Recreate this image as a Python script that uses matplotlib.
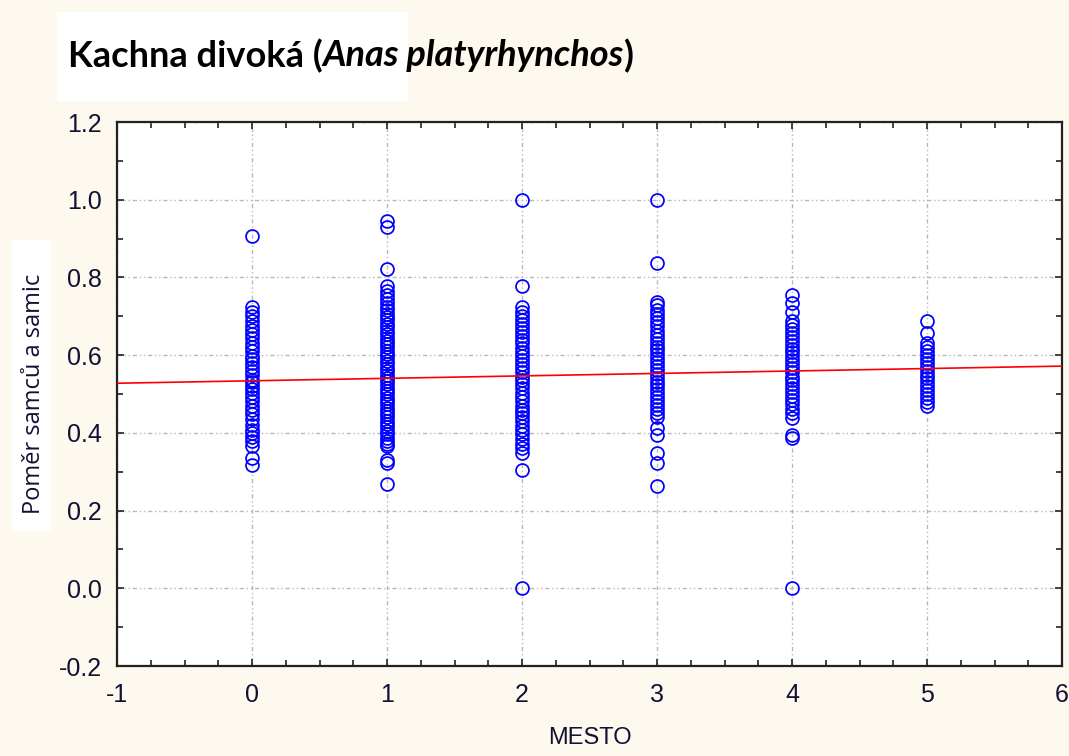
import matplotlib
matplotlib.use("Agg")
import matplotlib.pyplot as plt
from matplotlib.ticker import MultipleLocator, FormatStrFormatter
from matplotlib.patches import Rectangle
import numpy as np

plt.rcParams["axes.unicode_minus"] = False

# ── data ─────────────────────────────────────────────────────────────────────
mesto_0 = [0.907, 0.725, 0.712, 0.700, 0.688, 0.674, 0.665, 0.655, 0.643, 0.631,
           0.620, 0.610, 0.597, 0.590, 0.580, 0.570, 0.558, 0.548, 0.537, 0.530,
           0.520, 0.512, 0.503, 0.492, 0.481, 0.470, 0.460, 0.448, 0.436, 0.420,
           0.408, 0.400, 0.390, 0.378, 0.365, 0.335, 0.318]
mesto_1 = [0.944, 0.931, 0.822, 0.779, 0.765, 0.755, 0.745, 0.734, 0.725, 0.716,
           0.707, 0.698, 0.690, 0.680, 0.672, 0.663, 0.655, 0.645, 0.637, 0.628,
           0.620, 0.610, 0.602, 0.594, 0.585, 0.577, 0.568, 0.560, 0.550, 0.542,
           0.533, 0.525, 0.516, 0.508, 0.500, 0.490, 0.482, 0.473, 0.465, 0.456,
           0.448, 0.440, 0.430, 0.422, 0.414, 0.405, 0.396, 0.388, 0.380, 0.372,
           0.365, 0.331, 0.323, 0.269]
mesto_2 = [1.000, 0.777, 0.724, 0.712, 0.700, 0.690, 0.680, 0.670, 0.660, 0.650,
           0.640, 0.630, 0.618, 0.608, 0.598, 0.588, 0.578, 0.566, 0.556, 0.545,
           0.535, 0.525, 0.515, 0.503, 0.493, 0.482, 0.470, 0.460, 0.450, 0.440,
           0.430, 0.418, 0.408, 0.398, 0.385, 0.372, 0.360, 0.348, 0.305, 0.000]
mesto_3 = [1.000, 0.837, 0.738, 0.728, 0.716, 0.705, 0.695, 0.685, 0.674, 0.663,
           0.652, 0.642, 0.632, 0.622, 0.612, 0.602, 0.592, 0.582, 0.572, 0.562,
           0.552, 0.542, 0.532, 0.522, 0.512, 0.502, 0.492, 0.482, 0.472, 0.462,
           0.452, 0.442, 0.412, 0.395, 0.348, 0.322, 0.264]
mesto_4 = [0.755, 0.734, 0.710, 0.687, 0.677, 0.667, 0.657, 0.647, 0.637, 0.627,
           0.617, 0.607, 0.597, 0.587, 0.577, 0.567, 0.556, 0.545, 0.535, 0.525,
           0.515, 0.505, 0.495, 0.485, 0.475, 0.462, 0.451, 0.438, 0.395, 0.387,
           0.000]
mesto_5 = [0.687, 0.657, 0.631, 0.620, 0.610, 0.600, 0.590, 0.580, 0.570, 0.560,
           0.550, 0.540, 0.530, 0.520, 0.510, 0.500, 0.490, 0.480, 0.468]

columns = [mesto_0, mesto_1, mesto_2, mesto_3, mesto_4, mesto_5]
mesto = [0, 1, 2, 3, 4, 5]

# regression line (intercept, slope)
fit_x = [-1, 6]
fit_intercept = 0.534
fit_slope = 0.0063

title_parts = [("Kachna divoká (", "normal"),
               ("Anas platyrhynchos", "italic"),
               (")", "normal")]

BG = "#FDF9EE"
W, H = 1069, 756

fig = plt.figure(figsize=(W / 100, H / 100), dpi=100, facecolor=BG)

# white patches behind title and y-label (as in the screenshot)
fig.patches.append(Rectangle((57 / W, 1 - 100 / H), 350 / W, 88 / H,
                             transform=fig.transFigure, color="white", zorder=-1))
fig.patches.append(Rectangle((12 / W, 1 - 530 / H), 38 / W, 290 / H,
                             transform=fig.transFigure, color="white", zorder=-1))

ax = fig.add_axes([117 / W, 90 / H, 945 / W, 544 / H])
ax.set_facecolor("white")

for xv, ys in zip(mesto, columns):
    ax.plot([xv] * len(ys), ys, linestyle="none", marker="o", markersize=9.3,
            markerfacecolor="none", markeredgecolor="#0000FF", markeredgewidth=1.25,
            zorder=3)

fx = np.array(fit_x, dtype=float)
ax.plot(fx, fit_intercept + fit_slope * fx, color="#FF0000", lw=1.2, zorder=4)

ax.set_xlim(-1, 6)
ax.set_ylim(-0.2, 1.2)
ax.xaxis.set_major_locator(MultipleLocator(1))
ax.xaxis.set_minor_locator(MultipleLocator(0.25))
ax.yaxis.set_major_locator(MultipleLocator(0.2))
ax.yaxis.set_minor_locator(MultipleLocator(0.1))
ax.yaxis.set_major_formatter(FormatStrFormatter("%.1f"))

ax.tick_params(which="both", direction="in", top=True, right=True,
               width=1.2, color="#222222")
ax.tick_params(which="major", length=5)
ax.tick_params(which="minor", length=4)
ax.tick_params(axis="x", which="major", pad=12, labelsize=18)
ax.tick_params(axis="y", which="major", pad=11, labelsize=18)
for lab in ax.get_xticklabels() + ax.get_yticklabels():
    lab.set_family("Liberation Sans")
    lab.set_color("#111133")

for sp in ax.spines.values():
    sp.set_linewidth(1.6)
    sp.set_color("#222222")

ax.grid(True, which="major", color="#B8B8B8", lw=1.0,
        linestyle=(0, (3, 2, 1, 2, 1, 2)))
ax.set_axisbelow(True)

ax.set_xlabel("MESTO", family="Liberation Sans", fontsize=17, labelpad=15,
              color="#111133")
ax.set_ylabel("Poměr samců a samic", family="Open Sans", fontsize=17,
              color="#111133", labelpad=9)

# title drawn in pieces so the Latin name can be italic
renderer = fig.canvas.get_renderer()
x_px = 68
for txt, style in title_parts:
    t = fig.text(x_px / W, 1 - 56 / H, txt, family="Lato", fontweight="bold",
                 style=style, fontsize=26, va="center", ha="left", color="black")
    bb = t.get_window_extent(renderer=renderer)
    x_px += bb.width

fig.savefig("out.png", dpi=100, facecolor=BG)
